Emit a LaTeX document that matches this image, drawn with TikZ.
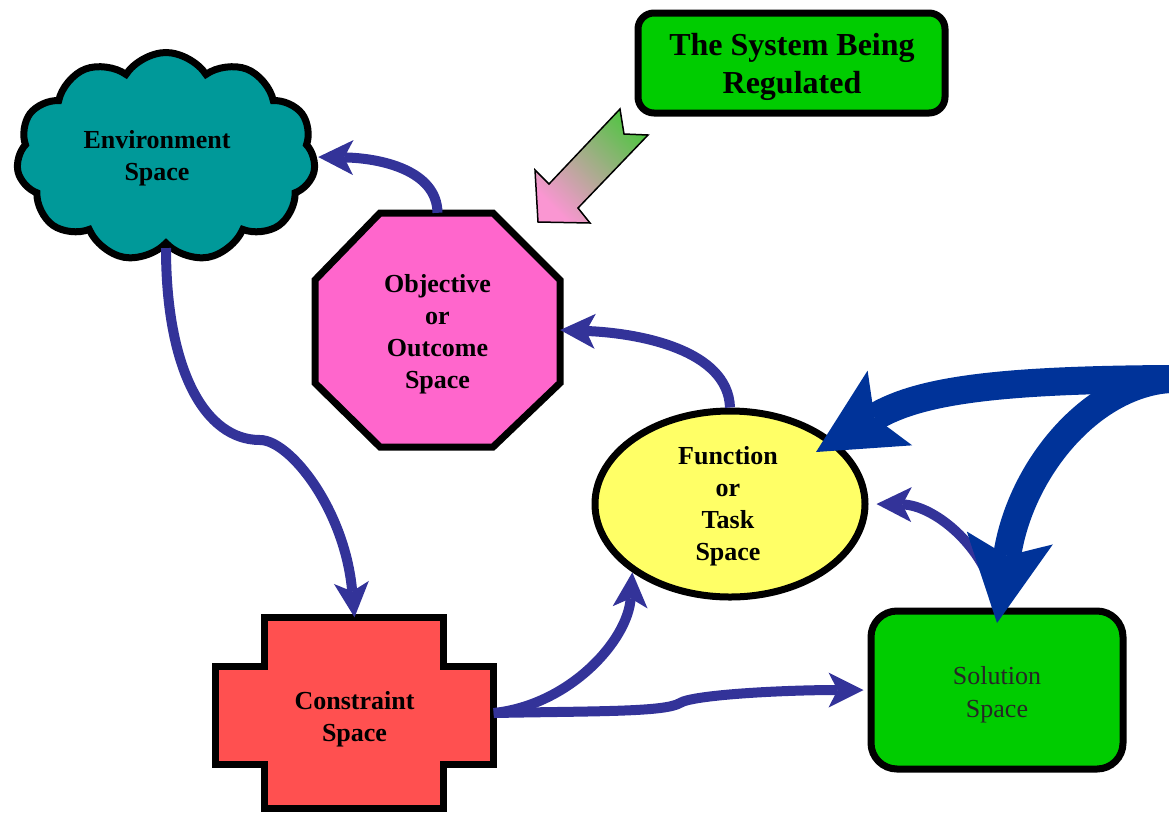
\documentclass[tikz,border=0pt]{standalone}
\usepackage{fontspec}
\setmainfont{Liberation Serif}
\usetikzlibrary{shapes.symbols,shapes.geometric,arrows.meta}
\definecolor{conncol}{RGB}{51,51,153}
\definecolor{bigcol}{RGB}{0,51,153}
\definecolor{envcol}{RGB}{0,153,153}
\definecolor{objcol}{RGB}{255,102,204}
\definecolor{fncol}{RGB}{255,255,102}
\definecolor{concol}{RGB}{255,80,80}
\definecolor{solcol}{RGB}{0,204,0}
\definecolor{pinkc}{RGB}{250,150,210}
\definecolor{greenc}{RGB}{85,195,70}
\begin{document}
\begin{tikzpicture}[x=1pt,y=-1pt,
  lbl/.style={font=\fontsize{26}{32}\selectfont\bfseries, align=center, text=black},
  shapeline/.style={draw=black, line width=7pt, line join=miter},
  conn/.style={draw=conncol, line width=10pt, -{Stealth[length=35pt,width=35pt,inset=9pt,line width=0pt]}},
  bigarrow/.style={draw=bigcol, line width=28pt, -{Stealth[length=86pt,width=87pt,inset=18pt,line width=0pt]}}]
\useasboundingbox (0,0) rectangle (1169,815);
\clip (0,0) rectangle (1169,815);

% Environment cloud
\node[cloud, cloud puffs=11, cloud puff arc=115, aspect=1.45, shapeline, fill=envcol,
      minimum width=299pt, minimum height=209pt, inner sep=0pt] (env) at (166,157) {};
\node[lbl] (envt) at (157,158) {Environment\\Space};

% Objective octagon
\draw[shapeline, fill=objcol] (315,280) -- (380,213) -- (493,213) -- (560,280) -- (560,383)
  -- (493,447) -- (380,447) -- (315,383) -- cycle;
\node[minimum width=245pt, minimum height=234pt] (obj) at (437.5,330) {};
\node[lbl] (objt) at (437.5,334) {Objective\\or\\Outcome\\Space};

% Function ellipse
\node[ellipse, shapeline, fill=fncol, minimum width=270pt, minimum height=186pt, inner sep=0pt]
  (fn) at (730,504) {};
\node[lbl] (fnt) at (728,506.5) {Function\\or\\Task\\Space};

% Constraint cross
\draw[shapeline, fill=concol] (264.5,617.5) -- (443.5,617.5) -- (443.5,666.5) -- (493.5,666.5)
  -- (493.5,764.5) -- (443.5,764.5) -- (443.5,808.5) -- (264.5,808.5) -- (264.5,764.5)
  -- (215.5,764.5) -- (215.5,666.5) -- (264.5,666.5) -- cycle;
\node[minimum width=278pt, minimum height=191pt] (con) at (354.5,713) {};
\node[lbl] (cont) at (354.5,719) {Constraint\\Space};

% Solution box
\node[rectangle, rounded corners=26pt, shapeline, fill=solcol, minimum width=252pt, minimum height=158pt]
  (sol) at (997,690) {};
\node[font=\fontsize{26}{33}\selectfont, align=center, text=black!85] (solt) at (997,695) {Solution\\Space};

% Title box
\node[rectangle, rounded corners=16pt, shapeline, fill=solcol, minimum width=307pt, minimum height=100pt]
  (title) at (791.5,63) {};
\node[font=\fontsize{32}{38}\selectfont\bfseries, align=center] (titlet) at (792,67) {The System Being\\Regulated};

% gradient arrow
\shade[draw=black, line width=1.5pt, left color=greenc, right color=pinkc, shading angle=-45]
  (538,222) -- (535,170) -- (549,184) -- (620,109) -- (624,134) -- (648,135) -- (578,208)
  -- (590,223) -- cycle;

% thin connectors
\draw[conn] (obj.north) .. controls (437,170) and (380,158) .. ([xshift=1pt]env.east);
\draw[conn] (fn.north) .. controls (728,350) and (640,333) .. (obj.east);
\draw[conn] (env.south) .. controls (166,370) and (205,440) .. (260,440)
  .. controls (290,440) and (345,510) .. (con.north);
\draw[conn] (con.east) .. controls (570,705) and (628,640) .. (fn.215);
\draw[conn] (con.east) .. controls (600,711) and (665,712) .. (680,703)
  .. controls (692,695) and (780,690) .. ([xshift=-4pt]sol.west);
\coordinate (fnE) at ([xshift=8pt]fn.east);
\draw[conn] (sol.north) .. controls (990,550) and (935,505) .. (fnE);

% big arrows
\coordinate (src) at (1169,379);
\coordinate (fnIn) at (816,452);
\coordinate (solIn) at (997,623);
\draw[bigarrow] (src) .. controls (1000,380) and (920,390) .. (fnIn);
\draw[bigarrow] (src) .. controls (1090,385) and (1020,470) .. (solIn);
\end{tikzpicture}
\end{document}
